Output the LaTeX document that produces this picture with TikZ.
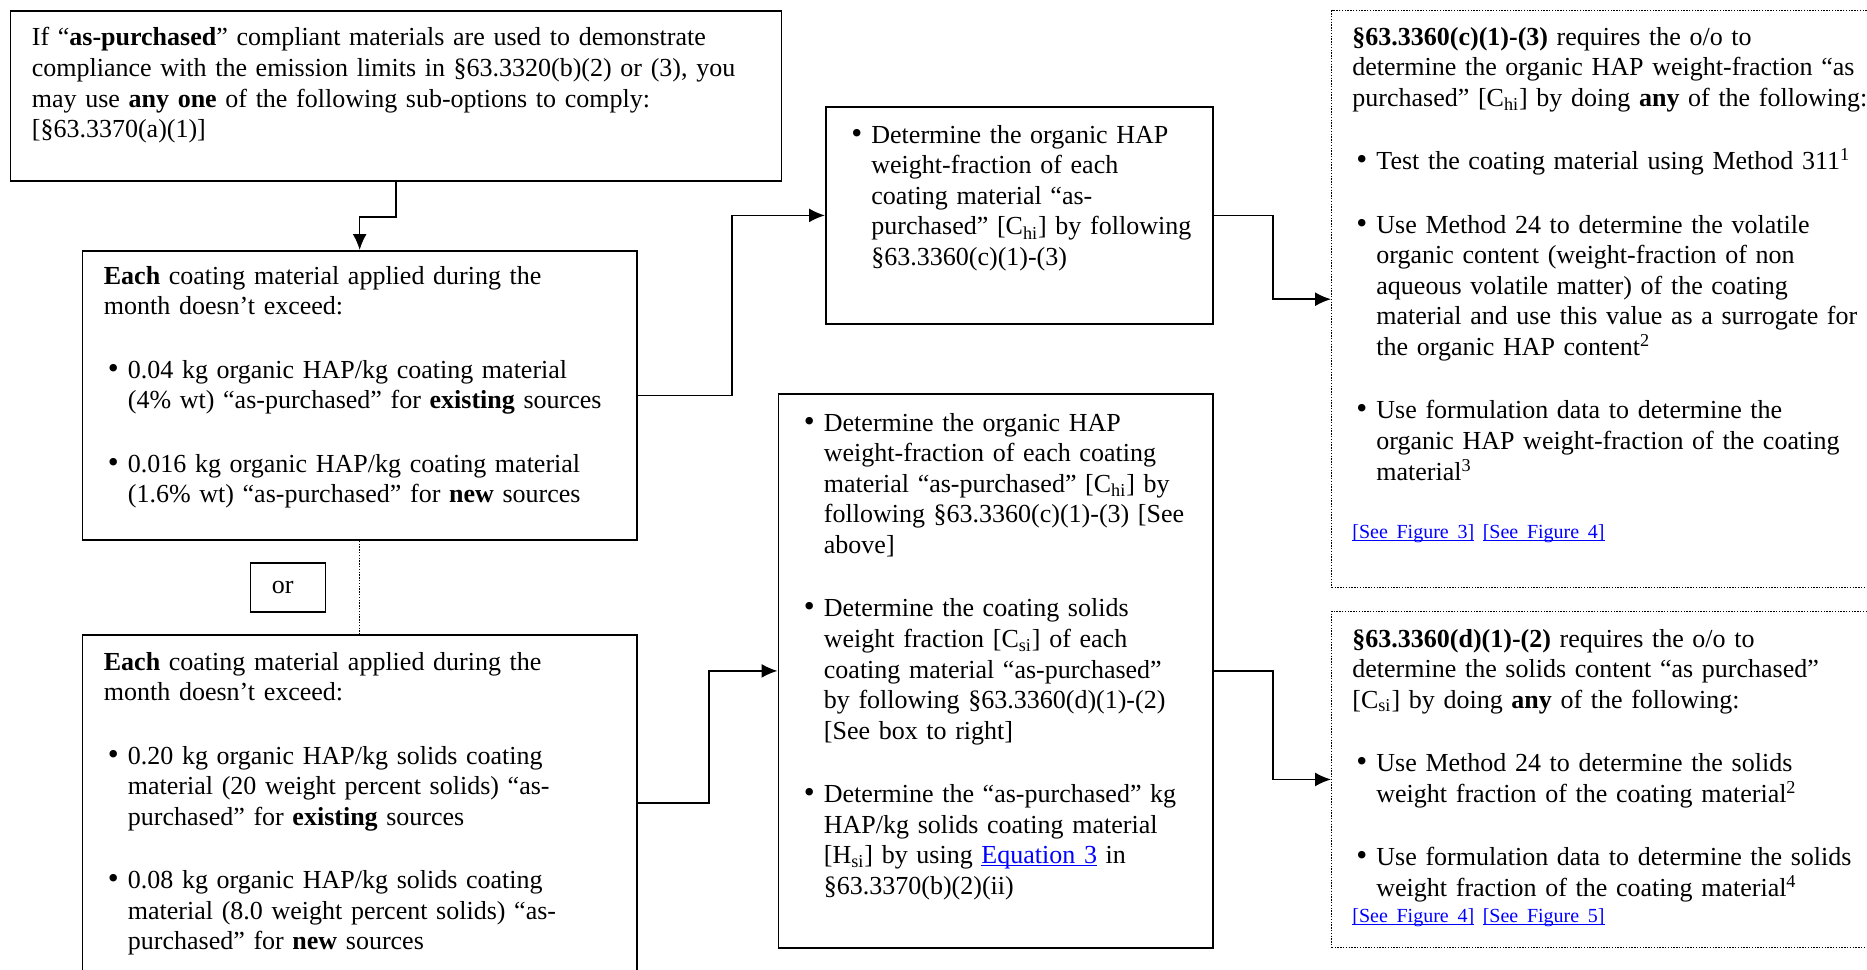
\documentclass[tikz,border=0pt]{standalone}
\usepackage{fontspec}
\setmainfont{Liberation Serif}
\usetikzlibrary{arrows.meta}

\newcommand{\bul}{\hangindent=12pt\hangafter=1\noindent\makebox[12pt][l]{\hspace{2pt}\scalebox{1.2}{\textbullet}}}
\newcommand{\gapline}{\par\vspace{16.4pt}}
\newcommand{\linkfont}{\fontsize{10}{14.5}\selectfont}
\newcommand{\seelink}[1]{\leavevmode{\color{blue}\setbox0=\hbox{#1}\rlap{\rule[-1.3pt]{\wd0}{0.55pt}}\box0}}

\begin{document}
\begin{tikzpicture}[
    x=0.5pt, y=-0.5pt,
    box/.style={draw, line width=0.9pt, inner sep=0pt, anchor=north west},
    reqbox/.style={box, line width=0.7pt, dash pattern=on 0.7pt off 0.7pt},
    txt/.style={inner sep=0pt, anchor=base west, align=left, text width=#1,
        font=\fontsize{13}{15.3}\selectfont},
    conn/.style={->, >={Latex[length=8pt,width=7pt]}, line width=0.8pt},
    dotline/.style={line width=0.7pt, dash pattern=on 0.7pt off 0.7pt},
]
\useasboundingbox (0,0) rectangle (1867,969);
\clip (0,0) rectangle (1867,969);

% boxes
\node[box, minimum width=385.5pt, minimum height=85pt] (intro) at (9.5,10) {};
\node[box, minimum width=277.25pt, minimum height=144.5pt] (hapbox) at (81.5,250) {};
\node[box, minimum width=37.5pt, minimum height=24.5pt, text width=16pt, align=left,
    font=\fontsize{13}{15.3}\selectfont] (orbox) at (249.5,562) {or};
\node[box, minimum width=277.25pt, minimum height=168pt] (solidsbox) at (81.5,634) {};
\node[box, minimum width=193.5pt, minimum height=108.5pt] (hapdet) at (825,106) {};
\node[box, minimum width=217.25pt, minimum height=277pt] (solidsdet) at (777.5,393) {};
\node[reqbox, minimum width=280pt, minimum height=288.5pt] (hapreq) at (1331,10) {};
\node[reqbox, minimum width=280pt, minimum height=168.25pt] (solidsreq) at (1331,610.5) {};

% texts
\node[txt=380pt] (introtxt) at (31.5,46) {If “\textbf{as-purchased}” compliant materials are used to demonstrate\newline
compliance with the emission limits in §63.3320(b)(2) or (3), you\newline
may use \textbf{any one} of the following sub-options to comply:\newline
[§63.3370(a)(1)]\par};

\node[txt=300pt] (haptxt) at (103.5,284) {\textbf{Each} coating material applied during the\newline
month doesn’t exceed:
\gapline\bul 0.04 kg organic HAP/kg coating material\newline
(4\% wt) “as-purchased” for \textbf{existing} sources
\gapline\bul 0.016 kg organic HAP/kg coating material\newline
(1.6\% wt) “as-purchased” for \textbf{new} sources\par};

\node[txt=300pt] (soltxt) at (103.5,670) {\textbf{Each} coating material applied during the\newline
month doesn’t exceed:
\gapline\bul 0.20 kg organic HAP/kg solids coating\newline
material (20 weight percent solids) “as-\newline
purchased” for \textbf{existing} sources
\gapline\bul 0.08 kg organic HAP/kg solids coating\newline
material (8.0 weight percent solids) “as-\newline
purchased” for \textbf{new} sources\par};

\node[txt=220pt] (hapdettxt) at (847,143) {\bul Determine the organic HAP\newline
weight-fraction of each\newline
coating material “as-\newline
purchased” [C\textsubscript{hi}] by following\newline
§63.3360(c)(1)-(3)\par};

\node[txt=240pt] (solidsdettxt) at (799.5,431) {\bul Determine the organic HAP\newline
weight-fraction of each coating\newline
material “as-purchased” [C\textsubscript{hi}] by\newline
following §63.3360(c)(1)-(3) [See\newline
above]
\gapline\bul Determine the coating solids\newline
weight fraction [C\textsubscript{si}] of each\newline
coating material “as-purchased”\newline
by following §63.3360(d)(1)-(2)\newline
[See box to right]
\gapline\bul Determine the “as-purchased” kg\newline
HAP/kg solids coating material\newline
[H\textsubscript{si}] by using \seelink{Equation 3} in\newline
§63.3370(b)(2)(ii)\par};

\node[txt=300pt] (hapreqtxt) at (1352,45) {\textbf{§63.3360(c)(1)-(3)} requires the o/o to\newline
determine the organic HAP weight-fraction “as\newline
purchased” [C\textsubscript{hi}] by doing \textbf{any} of the following:
\gapline\bul Test the coating material using Method 311\textsuperscript{1}
\gapline\bul Use Method 24 to determine the volatile\newline
organic content (weight-fraction of non\newline
aqueous volatile matter) of the coating\newline
material and use this value as a surrogate for\newline
the organic HAP content\textsuperscript{2}
\gapline\bul Use formulation data to determine the\newline
organic HAP weight-fraction of the coating\newline
material\textsuperscript{3}
\par\vspace{14.5pt}{\linkfont\noindent\seelink{[See Figure 3]} \seelink{[See Figure 4]}\par}};

\node[txt=300pt] (solidsreqtxt) at (1352,647) {\textbf{§63.3360(d)(1)-(2)} requires the o/o to\newline
determine the solids content “as purchased”\newline
[C\textsubscript{si}] by doing \textbf{any} of the following:
\gapline\bul Use Method 24 to determine the solids\newline
weight fraction of the coating material\textsuperscript{2}
\gapline\bul Use formulation data to determine the solids\newline
weight fraction of the coating material\textsuperscript{4}
\par\vspace{-1.5pt}{\linkfont\noindent\seelink{[See Figure 4]} \seelink{[See Figure 5]}\par}};

% connectors
\draw[conn] (intro.south) -- ++(0,35) -| (hapbox.north);
\draw[dotline] (hapbox.south) -- (solidsbox.north);
\draw[conn] (hapbox.east) -- ++(94,0) |- (hapdet.west);
\draw[conn] (solidsbox.east) -- ++(71,0) |- (solidsdet.west);
\draw[conn] (hapdet.east) -- ++(59,0) |- (hapreq.west);
\draw[conn] (solidsdet.east) -- ++(59,0) |- (solidsreq.west);
\end{tikzpicture}
\end{document}
